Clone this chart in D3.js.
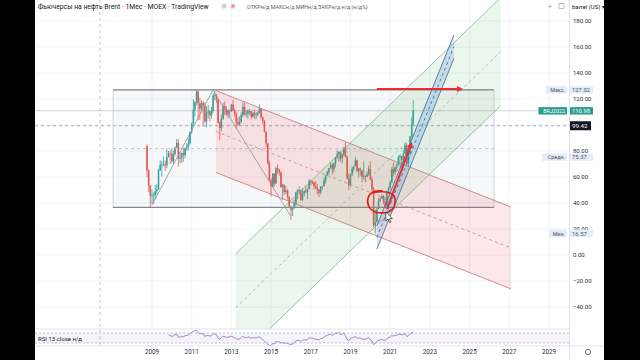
<!DOCTYPE html>
<html><head><meta charset="utf-8">
<script src="https://cdn.jsdelivr.net/npm/d3@7"></script>
<style>html,body{margin:0;padding:0;background:#000;}svg{display:block;font-family:Roboto,"Noto Sans",sans-serif;}</style>
</head><body>
<svg id="c" width="640" height="360"></svg>
<script>
// ---------------- DATA ----------------
// Monthly bars of Brent futures (MOEX), Oct 2008 .. Mar 2022
const firstMonth = [2008, 9];   // year, month index (Oct 2008)
const firstOpen = 84.0;
const closes = [
 65.0,53.5,45.6,
 45.9,46.4,49.2,50.6,65.4,69.3,69.6,69.8,69.1,75.5,78.0,77.9,
 72.1,77.6,82.7,86.2,74.0,75.0,78.4,76.8,82.3,83.5,85.9,94.8,
 101.0,111.8,117.4,125.9,116.7,112.5,117.0,114.9,102.8,109.6,110.5,107.4,
 110.98,122.7,122.9,119.5,101.9,97.8,104.9,114.6,112.4,108.7,111.2,111.1,
 115.6,111.4,108.5,102.4,100.4,102.2,107.7,114.0,108.4,108.8,110.8,110.8,
 106.4,109.1,107.8,108.1,109.4,112.4,106.0,103.2,94.7,85.9,70.2,57.3,
 53.0,62.6,55.1,66.8,65.6,63.6,52.2,54.2,48.4,49.6,44.6,37.3,
 34.7,36.0,39.6,48.1,49.7,49.7,42.5,47.0,49.1,48.3,50.5,56.8,
 55.7,55.6,52.8,51.7,50.3,47.9,52.7,52.9,57.5,61.4,63.6,66.9,
 69.1,65.8,70.3,75.2,77.6,79.4,74.3,77.4,82.7,75.5,58.7,53.8,
 61.9,66.3,68.4,72.8,64.5,66.6,65.2,60.4,60.8,60.2,62.4,66.0,
 58.2,50.5,22.7,25.3,35.3,41.2,43.3,45.3,40.9,37.5,47.6,51.8,
 55.9,66.1,63.5,67.3,69.3,75.1,76.3,73.0,78.3,84.4,70.6,77.8,
 91.2,101.0,110.98
];
const highs = [
 85.0,66.0,54.0,
 50.5,47.9,53.9,54.5,66.4,72.7,72.3,75.9,72.6,81.2,80.0,80.5,
 82.1,80.4,83.5,89.2,89.0,79.1,78.9,82.7,82.5,85.9,90.0,94.9,
 101.8,119.8,118.5,127.02,126.3,120.8,119.0,118.4,117.5,114.5,115.5,111.5,
 114.0,124.6,126.2,124.0,120.0,103.0,108.0,117.0,117.9,114.5,111.8,111.9,
 116.0,119.2,112.5,110.2,105.8,106.6,109.7,117.3,117.3,111.3,112.2,112.5,
 110.1,110.2,111.9,110.0,110.6,115.7,113.1,106.6,103.7,95.3,86.0,72.6,
 59.1,63.0,62.8,67.8,69.6,66.3,64.2,54.3,50.5,53.1,50.4,45.0,
 38.0,36.0,42.5,48.5,50.5,52.9,50.5,51.2,49.9,53.7,51.0,58.4,
 58.0,57.1,56.8,56.6,54.7,50.6,52.9,53.1,59.5,61.7,64.7,67.0,
 71.3,70.6,71.0,75.5,80.5,79.8,79.3,78.0,82.8,86.7,76.8,62.6,
 62.6,67.7,68.8,75.6,73.2,66.9,67.3,65.0,71.9,61.4,64.2,68.9,
 71.8,59.9,52.3,35.0,36.4,43.9,44.4,46.5,46.3,43.9,49.2,52.5,
 57.4,67.7,71.4,68.0,70.5,76.6,77.8,75.6,80.8,86.7,86.0,79.2,
 91.7,105.8,118.9
];
const lows = [
 60.0,48.5,36.6,
 39.4,39.2,42.8,46.4,50.0,64.4,60.3,68.3,64.6,66.6,75.0,70.0,
 70.9,69.9,76.5,82.1,67.9,70.5,71.0,71.7,74.4,80.2,80.5,84.9,
 93.0,98.3,106.5,115.0,103.6,103.9,109.4,98.7,101.5,98.2,105.0,102.8,
 105.0,109.0,119.0,117.0,101.2,88.5,95.3,104.0,107.6,107.0,105.0,106.5,
 110.0,110.5,106.0,96.8,99.2,99.2,102.1,106.1,107.2,106.0,104.8,107.9,
 104.3,105.7,104.5,104.6,106.5,108.9,104.4,100.6,94.4,82.6,69.8,57.0,
 45.2,52.0,52.5,54.5,62.2,61.1,51.9,42.2,46.3,46.9,42.6,36.0,
 27.1,30.0,35.5,37.3,43.0,46.6,41.5,41.5,45.0,48.0,43.1,51.0,
 53.6,54.5,50.3,50.6,46.6,44.4,46.5,50.4,52.7,55.1,60.7,61.7,
 66.6,61.8,63.6,67.5,74.0,71.9,71.8,70.3,75.5,74.9,58.4,50.0,
 52.5,60.7,64.2,68.4,64.1,59.5,61.0,55.9,57.8,56.2,59.9,60.9,
 57.5,49.0,21.6,16.57,25.0,35.3,41.5,43.2,38.9,36.6,37.8,47.2,
 50.4,55.0,60.3,61.5,64.1,69.6,67.4,65.0,71.0,77.8,70.2,68.0,
 76.8,88.9,99.0
];
const yearTicks = [2009,2011,2013,2015,2017,2019,2021,2023,2025,2027,2029];
const priceTicks = [-40,-20,0,20,40,60,80,120,140,160,180];
const rsiLength = 13;
const rsiBands = [70, 30];
// price-scale markers
const maxMark = {name:"Макс.", value:127.02};
const avgMark = {name:"Средн.", value:75.37};
const minMark = {name:"Мин.", value:16.57};
const lastMark = {name:"BRJ2022", value:110.98};
const crossMark = {value:99.42, time:2006.38};
// drawings (fractional year, price)
const rangeBox = {t1:2007.04, t2:2026.23, top:127.02, bottom:36.6};
const redChannel = {t1:2012.22, p1:126.5, t2:2027.09, p2:36.9, off:-63};
const greenChannel = {t1:2013.22, p1:1.0, t2:2026.57, p2:198.0, off:-83};
const blueChannel = {t1:2020.33, p1:22.5, t2:2024.21, p2:169.2, off:-18};
const trendLines = [[2009.0,38.5,2012.07,126.9],[2012.07,126.9,2015.95,30.8]];
const redArrows = [[2020.33,127.6,2024.67,127.6],[2020.84,35.4,2022.10,86.9]];
const circleMark = {t:2020.54, p:40.8};
const cursorAt = {t:2020.78, p:33};

// ---------------- LAYOUT ----------------
const L = 35, R = 604, PR = 569, mainBottom = 329, rsiBottom = 346;
const svg = d3.select("#c");
const x = d3.scaleTime().domain([new Date(2009,0,1), new Date(2029,0,1)]).range([152,549]);
const y = d3.scaleLinear().domain([-40,180]).range([307,21]);
const yr = d3.scaleLinear().domain([30,70]).range([343,333]);
function fy(v){const a=Math.floor(v);const s=new Date(a,0,1),e=new Date(a+1,0,1);return new Date(+s+(v-a)*(e-s));}
const X = t => x(fy(t));

svg.append("rect").attr("x",L).attr("y",0).attr("width",R-L).attr("height",360).attr("fill","#fff");
const defs = svg.append("defs");
defs.append("clipPath").attr("id","mc").append("rect").attr("x",L).attr("y",0).attr("width",PR-L).attr("height",mainBottom);
defs.append("clipPath").attr("id","rc").append("rect").attr("x",L).attr("y",mainBottom).attr("width",PR-L).attr("height",rsiBottom-mainBottom);

// grid
const grid = svg.append("g").attr("clip-path","url(#mc)");
grid.selectAll("line.h").data(d3.range(-60,200,20)).join("line")
 .attr("x1",L).attr("x2",PR).attr("y1",d=>y(d)).attr("y2",d=>y(d)).attr("stroke","#f0f3fa");
grid.selectAll("line.v").data(yearTicks).join("line")
 .attr("x1",d=>x(new Date(d,0,1))).attr("x2",d=>x(new Date(d,0,1))).attr("y1",0).attr("y2",mainBottom).attr("stroke","#f0f3fa");

// bars
const bars = closes.map((c,i)=>({date:new Date(firstMonth[0],firstMonth[1]+i,1),o:i?closes[i-1]:firstOpen,h:highs[i],l:lows[i],c}));
const main = svg.append("g").attr("clip-path","url(#mc)");
main.append("line").attr("x1",L).attr("x2",PR).attr("y1",y(lastMark.value)).attr("y2",y(lastMark.value)).attr("stroke","#c9d3d6");
main.append("line").attr("x1",L).attr("x2",PR).attr("y1",y(crossMark.value)).attr("y2",y(crossMark.value)).attr("stroke","#9598a1").attr("stroke-dasharray","3,3").attr("stroke-width",0.8);

const col = d => d.c>=d.o ? "#26a69a" : "#ef5350";
main.selectAll("line.w").data(bars).join("line")
 .attr("x1",d=>x(d.date)).attr("x2",d=>x(d.date)).attr("y1",d=>y(d.h)).attr("y2",d=>y(d.l))
 .attr("stroke",col).attr("stroke-width",0.8);
main.selectAll("rect.b").data(bars).join("rect")
 .attr("x",d=>x(d.date)-0.75).attr("width",1.5)
 .attr("y",d=>y(Math.max(d.o,d.c))).attr("height",d=>Math.max(0.8,Math.abs(y(d.o)-y(d.c))))
 .attr("fill",col);

// drawings
const dr = svg.append("g").attr("clip-path","url(#mc)");
dr.append("rect").attr("x",X(rangeBox.t1)).attr("y",y(rangeBox.top)).attr("width",X(rangeBox.t2)-X(rangeBox.t1))
 .attr("height",y(rangeBox.bottom)-y(rangeBox.top)).attr("fill","rgba(120,130,150,0.06)").attr("stroke","#c8cbd2").attr("stroke-width",0.8);
[rangeBox.top, rangeBox.bottom].forEach(p=>dr.append("line").attr("x1",X(rangeBox.t1)).attr("x2",X(rangeBox.t2))
 .attr("y1",y(p)).attr("y2",y(p)).attr("stroke","#85878f").attr("stroke-width",1.4));
dr.append("line").attr("x1",X(rangeBox.t1)).attr("x2",X(rangeBox.t2))
 .attr("y1",y((rangeBox.top+rangeBox.bottom)/2)).attr("y2",y((rangeBox.top+rangeBox.bottom)/2))
 .attr("stroke","#b2b5be").attr("stroke-dasharray","3,3").attr("stroke-width",0.8);

function channel(ch, fill, line, mid, w){
  const a=[X(ch.t1),y(ch.p1)], b=[X(ch.t2),y(ch.p2)], c=[X(ch.t2),y(ch.p2+ch.off)], d=[X(ch.t1),y(ch.p1+ch.off)];
  dr.append("path").attr("d",d3.line()([a,b,c,d])+"Z").attr("fill",fill);
  dr.append("line").attr("x1",a[0]).attr("y1",a[1]).attr("x2",b[0]).attr("y2",b[1]).attr("stroke",line).attr("stroke-width",w);
  dr.append("line").attr("x1",d[0]).attr("y1",d[1]).attr("x2",c[0]).attr("y2",c[1]).attr("stroke",line).attr("stroke-width",w);
  dr.append("line").attr("x1",a[0]).attr("y1",y(ch.p1+ch.off/2)).attr("x2",b[0]).attr("y2",y(ch.p2+ch.off/2))
    .attr("stroke",mid).attr("stroke-width",w).attr("stroke-dasharray","3,3");
}
channel(redChannel,"rgba(242,54,69,0.12)","rgba(190,110,110,0.85)","rgba(200,120,120,0.8)",0.9);
channel(greenChannel,"rgba(76,175,80,0.11)","rgba(110,165,130,0.75)","rgba(140,170,150,0.8)",0.9);

trendLines.forEach(t=>dr.append("line").attr("x1",X(t[0])).attr("y1",y(t[1])).attr("x2",X(t[2])).attr("y2",y(t[3]))
 .attr("stroke","#8f929b").attr("stroke-width",0.8));

channel(blueChannel,"rgba(33,130,230,0.2)","#56708c","#4a6a95",0.9);

// red arrows
redArrows.forEach(a=>{
  const x1=X(a[0]),y1=y(a[1]),x2=X(a[2]),y2=y(a[3]);
  const ang=Math.atan2(y2-y1,x2-x1), len=6, hw=3;
  const bx=x2-len*Math.cos(ang), by=y2-len*Math.sin(ang);
  dr.append("line").attr("x1",x1).attr("y1",y1).attr("x2",bx).attr("y2",by).attr("stroke","#ef2b2b").attr("stroke-width",2);
  dr.append("path").attr("d",d3.line()([[x2,y2],[bx-hw*Math.sin(ang),by+hw*Math.cos(ang)],[bx+hw*Math.sin(ang),by-hw*Math.cos(ang)]])+"Z").attr("fill","#ef2b2b");
});
{
  const cx=X(circleMark.t), cy=y(circleMark.p);
  const pts=[[cx-10,cy-9],[cx+5,cy-10],[cx+13,cy-6],[cx+13,cy+5],[cx+7,cy+10],[cx-6,cy+10],[cx-12,cy+5],[cx-13,cy-4],[cx-8,cy-10],[cx+2,cy-11]];
  dr.append("path").attr("d",d3.line().curve(d3.curveCatmullRom)(pts)).attr("fill","none").attr("stroke","#e0201b").attr("stroke-width",1.6);
}
svg.append("line").attr("x1",X(crossMark.time)).attr("x2",X(crossMark.time)).attr("y1",0).attr("y2",rsiBottom)
 .attr("stroke","#b2b5be").attr("stroke-dasharray","3,3").attr("stroke-width",0.8);

// RSI pane
svg.append("line").attr("x1",L).attr("x2",PR).attr("y1",mainBottom).attr("y2",mainBottom).attr("stroke","#e0e3eb");
const rg = svg.append("g").attr("clip-path","url(#rc)");
rg.append("rect").attr("x",L).attr("width",PR-L).attr("y",yr(rsiBands[0])).attr("height",yr(rsiBands[1])-yr(rsiBands[0])).attr("fill","rgba(126,87,194,0.08)");
rsiBands.forEach(v=>rg.append("line").attr("x1",L).attr("x2",PR).attr("y1",yr(v)).attr("y2",yr(v)).attr("stroke","#a8abb5").attr("stroke-dasharray","2,2").attr("stroke-width",0.7));
const rsi=[]; let ag=0, al=0;
for(let i=1;i<closes.length;i++){
  const ch=closes[i]-closes[i-1], g=Math.max(ch,0), l=Math.max(-ch,0);
  if(i<=rsiLength){ag+=g/rsiLength; al+=l/rsiLength; if(i===rsiLength) rsi.push({date:bars[i].date,v:100-100/(1+ag/al)});}
  else {ag=(ag*(rsiLength-1)+g)/rsiLength; al=(al*(rsiLength-1)+l)/rsiLength; rsi.push({date:bars[i].date,v:al===0?100:100-100/(1+ag/al)});}
}
rg.append("path").attr("d",d3.line().x(d=>x(d.date)).y(d=>yr(d.v))(rsi)).attr("fill","none").attr("stroke","#8c6cc8").attr("stroke-width",0.8);
svg.append("text").attr("x",38).attr("y",341).attr("font-size",6).attr("fill","#131722").text("RSI 13 close  н/д");

// axes
svg.append("line").attr("x1",PR+0.5).attr("x2",PR+0.5).attr("y1",0).attr("y2",360).attr("stroke","#e0e3eb");
svg.append("line").attr("x1",L).attr("x2",R).attr("y1",rsiBottom).attr("y2",rsiBottom).attr("stroke","#e0e3eb");
svg.selectAll("text.t").data(yearTicks).join("text").attr("x",d=>x(new Date(d,0,1))).attr("y",354)
 .attr("text-anchor","middle").attr("font-size",6.3).attr("fill","#2a2e39").text(d=>d);
svg.selectAll("text.p").data(priceTicks).join("text").attr("x",573).attr("y",d=>y(d)+1.8)
 .attr("font-size",6).attr("fill","#2a2e39").text(d=>d3.format(".2f")(d));

function mark(m, bg, fg, nameBg){
  const yy=y(m.value);
  if(m.name){
    const w=m.name.length*3.5+5;
    svg.append("rect").attr("x",568-w).attr("y",yy-3.6).attr("width",w-1).attr("height",7.4).attr("fill",nameBg);
    svg.append("text").attr("x",565).attr("y",yy+2.1).attr("text-anchor","end").attr("font-size",5.4).attr("fill",fg).text(m.name);
  }
  svg.append("rect").attr("x",570).attr("y",yy-3.6).attr("width",23).attr("height",7.4).attr("fill",bg);
  svg.append("text").attr("x",572).attr("y",yy+2.3).attr("font-size",5.9).attr("fill",fg).text(d3.format(".2f")(m.value));
}
mark(maxMark,"#e4ecf7","#4a5366","#e4ecf7");
mark(avgMark,"#e4ecf7","#4a5366","#e4ecf7");
mark(minMark,"#e4ecf7","#4a5366","#e4ecf7");
mark(lastMark,"#2a9d90","#fff","#2a9d90");
svg.append("rect").attr("x",570).attr("y",y(crossMark.value)-4.5).attr("width",21).attr("height",9).attr("fill","#131722");
svg.append("text").attr("x",572).attr("y",y(crossMark.value)+2.3).attr("font-size",6.2).attr("fill","#fff").text(d3.format(".2f")(crossMark.value));

// legend / top bar
svg.append("text").attr("x",38).attr("y",9).attr("font-size",6.8).attr("fill","#131722")
 .text("Фьючерсы на нефть Brent · 1Мес · MOEX · TradingView");
svg.append("circle").attr("cx",224).attr("cy",6).attr("r",2.6).attr("fill","#d1d4dc");
svg.append("circle").attr("cx",233).attr("cy",6).attr("r",2.6).attr("fill","#f7c6c9");
svg.append("text").attr("x",233).attr("y",7.8).attr("text-anchor","middle").attr("font-size",4.5).attr("fill","#e53935").text("×");
svg.append("text").attr("x",247).attr("y",9).attr("font-size",5.4).attr("fill","#5d606b")
 .text("ОТКРн/д МАКСн/д МИНн/д ЗАКРн/д н/д (н/д%)");
svg.append("text").attr("x",550).attr("y",9).attr("text-anchor","middle").attr("font-size",7).attr("fill","#9598a1").text("+");
svg.append("rect").attr("x",559).attr("y",3.5).attr("width",5).attr("height",5).attr("fill","none").attr("stroke","#9598a1").attr("stroke-width",0.6);
svg.append("text").attr("x",572).attr("y",9).attr("font-size",6).attr("fill","#131722").text("barrel (US) ▾");
svg.append("circle").attr("cx",588).attr("cy",352).attr("r",2.6).attr("fill","none").attr("stroke","#6a6d78").attr("stroke-width",1);
{
  const cx=X(cursorAt.t), cy=y(cursorAt.p);
  const p=[[0,0],[0,9],[2.2,7],[3.8,10.5],[5,10],[3.6,6.6],[6.5,6.5]].map(d=>[cx+d[0],cy+d[1]]);
  svg.append("path").attr("d",d3.line()(p)+"Z").attr("fill","#fff").attr("stroke","#222").attr("stroke-width",0.7);
}
</script>
</body></html>
